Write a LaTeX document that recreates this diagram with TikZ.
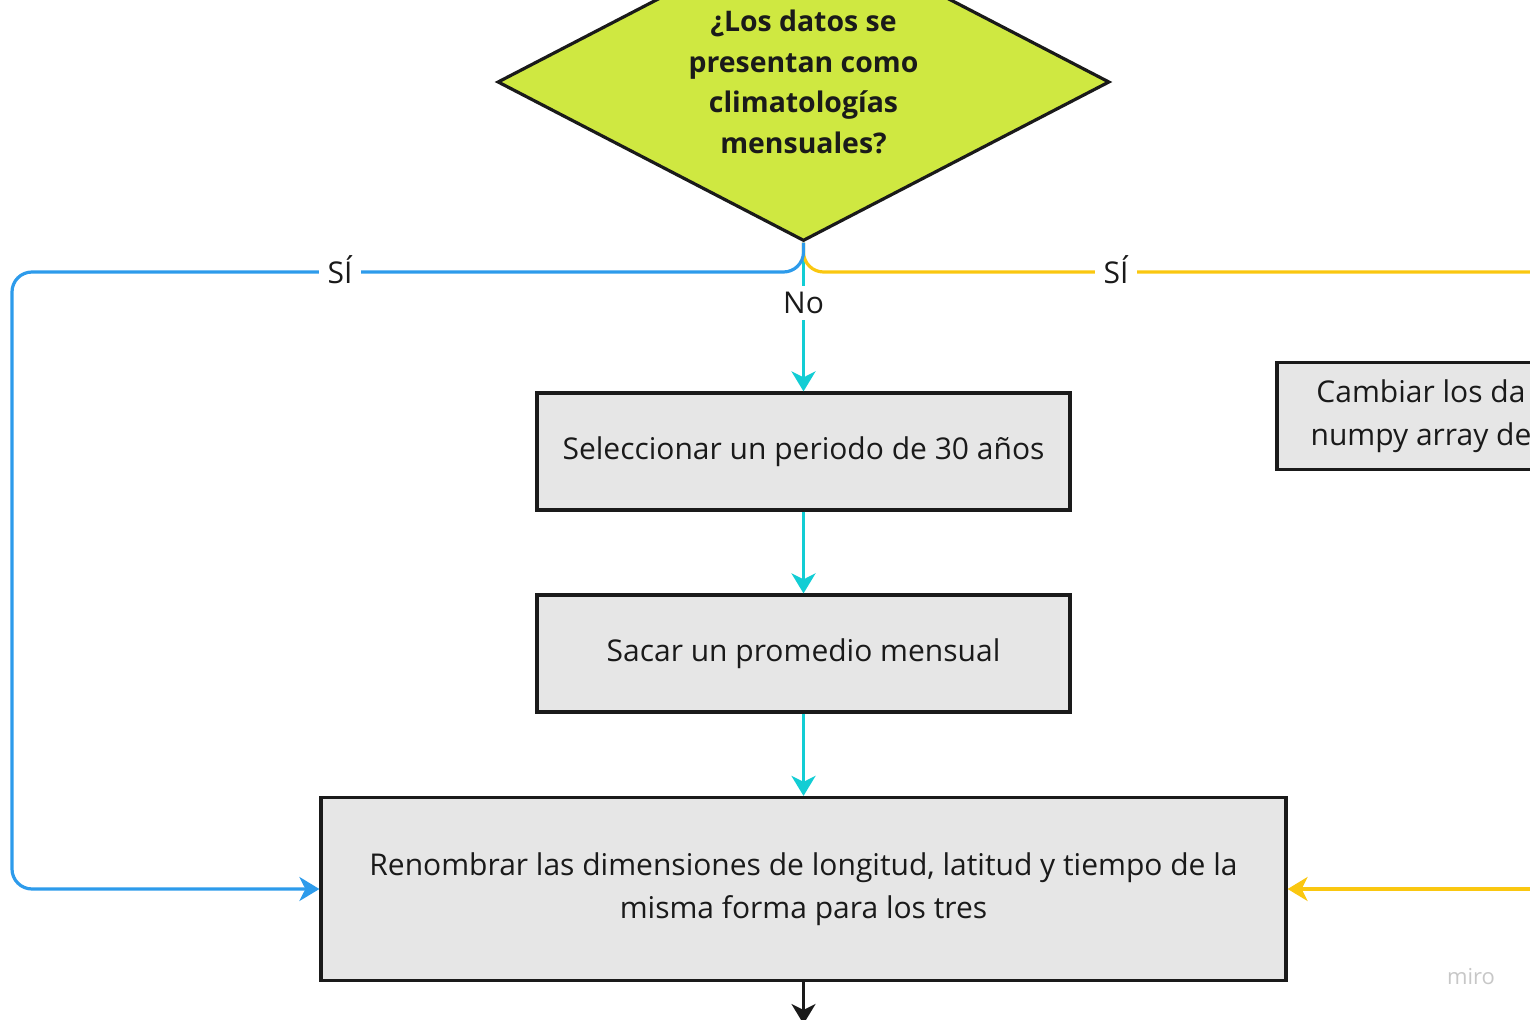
\documentclass[tikz,border=0pt]{standalone}
\usepackage{fontspec}
\setmainfont{Open Sans}
\usetikzlibrary{shapes.geometric,arrows.meta}
\definecolor{lima}{RGB}{207,232,65}
\definecolor{caja}{RGB}{230,230,230}
\definecolor{borde}{RGB}{26,26,26}
\definecolor{azul}{RGB}{45,155,235}
\definecolor{amarillo}{RGB}{250,199,16}
\definecolor{cian}{RGB}{18,205,212}

\tikzset{
 caja/.style={draw=borde, fill=caja, line width=1.6pt, text=borde, font=\fontsize{15}{21.5}\selectfont, align=center, inner sep=0pt},
 decision/.style={diamond, draw=borde, fill=lima, line width=1.6pt, text=borde, shape aspect=1.92, inner sep=0pt, minimum width=306pt, minimum height=159pt, font=\fontsize{14.2}{20.25}\selectfont\bfseries, align=center},
 flecha/.style={line width=1.6pt, -{Stealth[length=10pt, width=12pt, inset=3pt]}},
 linea/.style={line width=1.6pt},
 etiqueta/.style={fill=white, text=borde, inner xsep=4.5pt, inner ysep=3pt, font=\fontsize{15}{17}\selectfont}
}

\begin{document}
\begin{tikzpicture}[x=0.5pt, y=-0.5pt]
 \useasboundingbox (0,0) rectangle (1530,1020);

 \node[decision] (dec) at (803.5,82) {¿Los datos se\\presentan como\\climatologías\\mensuales?};
 \node[caja, minimum width=266.5pt, minimum height=58.5pt] (sel) at (803.5,451.5) {Seleccionar un periodo de 30 años};
 \node[caja, minimum width=266.5pt, minimum height=58.5pt] (prom) at (803.5,653.5) {Sacar un promedio mensual};
 \node[caja, minimum width=482.5pt, minimum height=91.5pt] (ren) at (803.5,889) {Renombrar las dimensiones de longitud, latitud y tiempo de la\\misma forma para los tres};
 \node[caja, minimum width=144pt, minimum height=53.5pt] (camb) at (1421,416) {Cambiar los da\\numpy array de};

 \coordinate (amaA) at (1570,272);
 \coordinate (amaB) at (1570,889);
 \coordinate (fin) at (803.5,1024);

 \draw[flecha, cian] (dec.south) -- (sel.north);
 \draw[flecha, cian] (sel.south) -- (prom.north);
 \draw[flecha, cian] (prom.south) -- (ren.north);
 \draw[linea, amarillo, rounded corners=10pt] (dec.south) |- (amaA);
 \draw[flecha, amarillo] (amaB) -- (ren.east);
 \draw[flecha, azul, rounded corners=10pt] (dec.south) |- (12,272) |- (ren.west);
 \draw[flecha, borde] (ren.south) -- (fin);

 \node[etiqueta] (si1) at (340,270) {SÍ};
 \node[etiqueta] (si2) at (1116,270) {SÍ};
 \node[etiqueta] (no) at (803.5,303) {No};
 \node[text=black!22, font=\fontsize{11}{13}\selectfont] (miro) at (1471,977) {miro};
\end{tikzpicture}
\end{document}
